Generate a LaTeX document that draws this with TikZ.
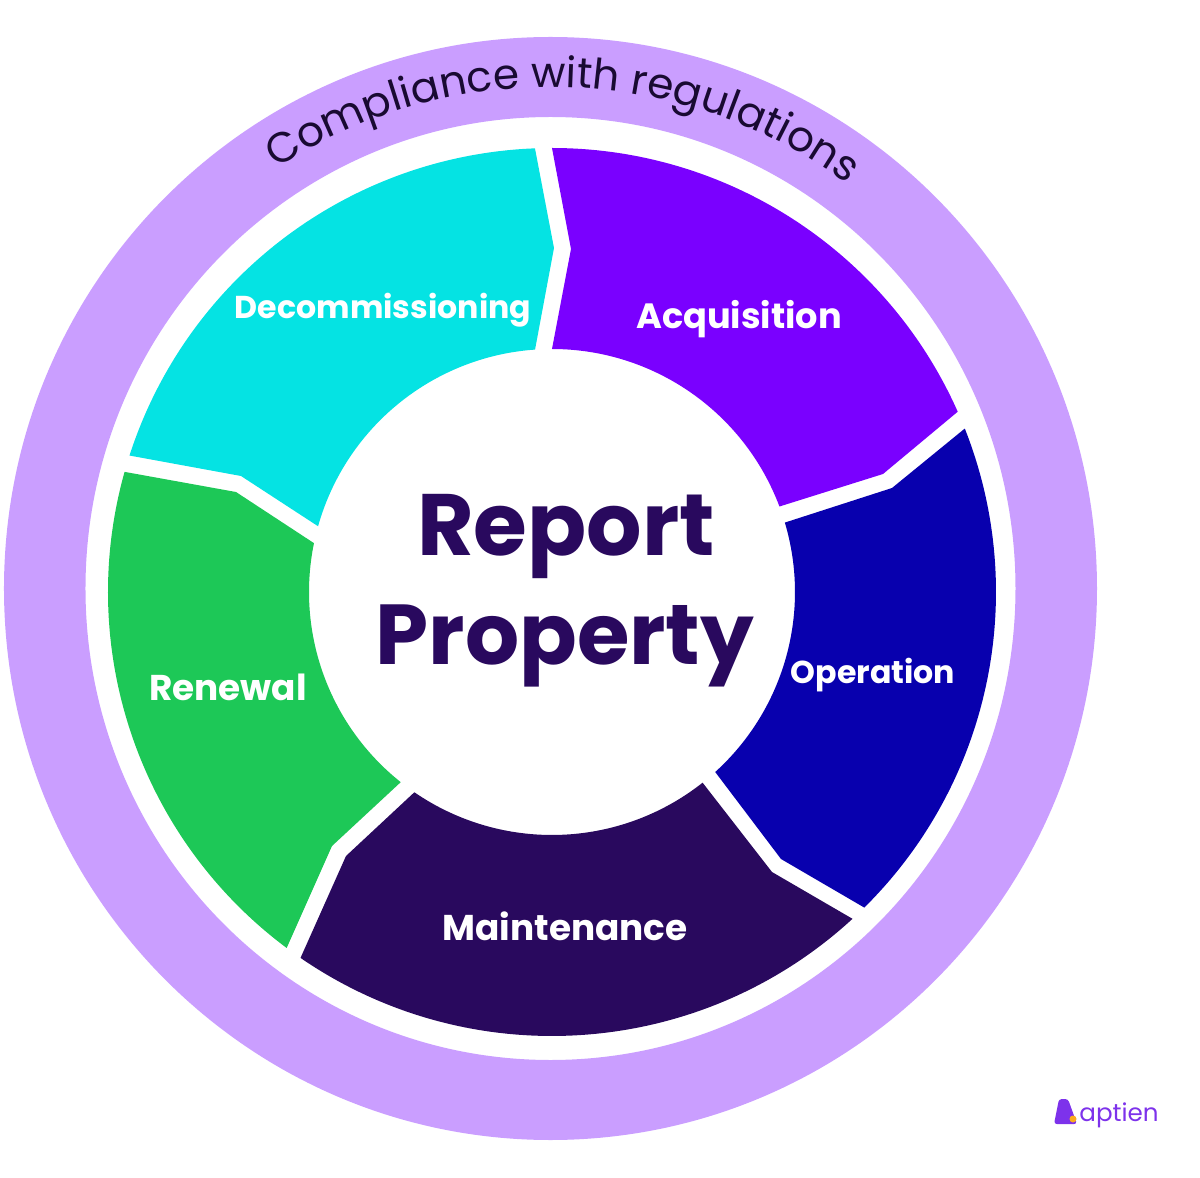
\documentclass[tikz,border=0pt]{standalone}
\usepackage{xcolor}
\usepackage{fontspec}
\setmainfont{Poppins}
\usetikzlibrary{decorations.text}
\definecolor{ringlilac}{RGB}{202, 158, 255}
\definecolor{ringink}{RGB}{25, 10, 50}
\definecolor{aqua}{RGB}{5, 227, 227}
\definecolor{violet}{RGB}{122, 0, 255}
\definecolor{navy}{RGB}{8, 0, 174}
\definecolor{plum}{RGB}{41, 9, 94}
\definecolor{leaf}{RGB}{29, 200, 87}
\definecolor{logopurple}{RGB}{125, 50, 235}
\definecolor{logodot}{RGB}{250, 170, 30}
\tikzset{
    phaselabel/.style={text=white, font=\bfseries\fontsize{#1}{50}\selectfont},
    hublabel/.style={text=plum, font=\bfseries\fontsize{#1}{130}\selectfont},
}

\begin{document}
\begin{tikzpicture}[x=0.05cm,y=0.05cm]
    \useasboundingbox (-552,-585) rectangle (648,592);

    % Outer ring
    \fill[ringlilac, even odd rule] (-1.5,3.5) ellipse (546.5 and 551.5) (-1.5,3.5) ellipse (465 and 471.5);
    \path[decorate, decoration={text along path, text align={align=center},
        text={|\fontsize{60}{60}\selectfont\color{ringink}|Compliance with regulations}}]
        (-1,3) ++(130:502) arc[start angle=130, end angle=47, radius=502];

    % Phases
    \fill[violet] (90:444) arc[start angle=90, end angle=23.96, radius=444]
        -- (331,118) -- (20.6:243) arc[start angle=20.6, end angle=90, radius=243]
        -- (19,343) -- cycle;
    \fill[navy] (21.6:444) arc[start angle=21.6, end angle=-45.3, radius=444]
        -- (229,-267) -- (-47.8:243) arc[start angle=-47.8, end angle=16.6, radius=243]
        -- (340,104) -- cycle;
    \fill[plum] (-47.4:444) arc[start angle=-47.4, end angle=-124.5, radius=444]
        -- (-206,-264) -- (-124.5:243) arc[start angle=-124.5, end angle=-51.7, radius=243]
        -- (220,-280) -- cycle;
    \fill[leaf] (233.3:444) arc[start angle=233.3, end angle=164.3, radius=444]
        -- (-316,100) -- (168.4:243) arc[start angle=168.4, end angle=231.5, radius=243]
        -- (-220,-254) -- cycle;
    \fill[aqua] (162.1:444) arc[start angle=162.1, end angle=92.2, radius=444]
        -- (2,344) -- (94:243) arc[start angle=94, end angle=164.3, radius=243]
        -- (-311,116) -- cycle;

    % Labels
    \node[phaselabel=45] (decommissioning) at (-169,282) {Decommissioning};
    \node[phaselabel=50] (acquisition) at (187,273) {Acquisition};
    \node[phaselabel=45] (operation) at (321,-83) {Operation};
    \node[phaselabel=51] (maintenance) at (13,-334) {Maintenance};
    \node[phaselabel=51] (renewal) at (-324,-95) {Renewal};

    \node[hublabel=124] (report) at (14,55) {Report};
    \node[hublabel=121] (property) at (13,-54) {Property};

    % Logo
    \fill[logopurple, rounded corners=4] (507,-507) -- (516,-507) -- (525,-532) -- (502,-532) -- cycle;
    \fill[logodot] (521,-527) circle (3.5);
    \node[text=logopurple, font=\fontsize{35}{36}\selectfont] (aptien) at (567,-523) {aptien};
\end{tikzpicture}
\end{document}
